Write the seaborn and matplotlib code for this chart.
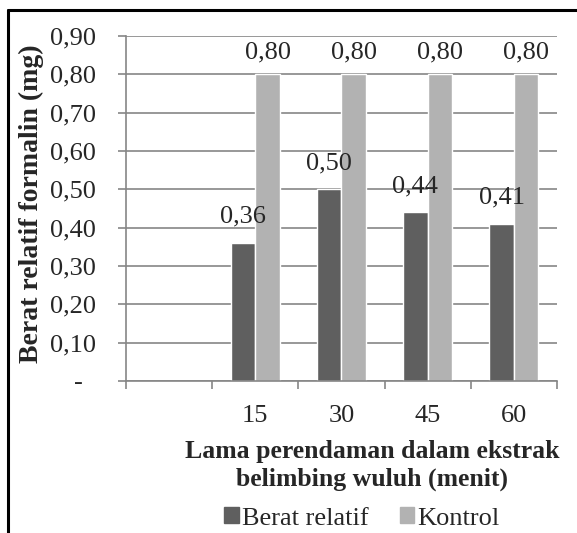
import numpy as np
import pandas as pd
import matplotlib
matplotlib.use("Agg")
import matplotlib.pyplot as plt
from matplotlib.lines import Line2D
from matplotlib.ticker import FixedLocator, FuncFormatter
import seaborn as sns

# data
categories = ["", "15", "30", "45", "60"]
waktu = ["15", "30", "45", "60"]
berat_relatif = [0.36, 0.50, 0.44, 0.41]
kontrol = [0.80, 0.80, 0.80, 0.80]
series_names = ["Berat relatif", "Kontrol"]
colors = ["#5f5f5f", "#b2b2b2"]

df = pd.DataFrame({
    "waktu": waktu * 2,
    "nilai": berat_relatif + kontrol,
    "seri": [series_names[0]] * 4 + [series_names[1]] * 4,
})

sns.set_style("white")
plt.rcParams["font.family"] = ["Liberation Serif", "DejaVu Serif"]

fs = 19
fig = plt.figure(figsize=(5.77, 5.33), dpi=100)
ax = fig.add_axes([0.2184, 0.2852, 0.7469, 0.6473])

sns.barplot(data=df, x="waktu", y="nilai", hue="seri", order=categories,
            hue_order=series_names, palette=colors, width=0.57,
            saturation=1, ax=ax, legend=False)

grid_c = "#868686"
ax.set_ylim(0, 0.9)
ax.set_xlim(-0.5, 4.5)
ax.yaxis.set_major_locator(FixedLocator(np.arange(0, 0.91, 0.1)))


def fmt(v, pos):
    if abs(v) < 1e-9:
        return "-  "
    return f"{v:.2f}".replace(".", ",")


ax.yaxis.set_major_formatter(FuncFormatter(fmt))
ax.yaxis.grid(True, color=grid_c, linewidth=1.2)
ax.set_axisbelow(True)

for s in ["top", "right"]:
    ax.spines[s].set_visible(False)
for s in ["left", "bottom"]:
    ax.spines[s].set_color(grid_c)
    ax.spines[s].set_linewidth(1.2)

ax.set_xticks(np.arange(-0.5, 4.6, 1.0))
ax.set_xticklabels([])
ax.set_xticks(range(len(categories)), minor=True)
ax.set_xticklabels(categories, minor=True)
ax.tick_params(axis="x", which="major", length=5.8, color=grid_c, width=1.2, direction="out")
ax.tick_params(axis="x", which="minor", length=0, pad=17, labelsize=fs)
ax.tick_params(axis="y", length=5.8, color=grid_c, width=1.2, direction="out", pad=16, labelsize=fs)
ax.tick_params(left=True, bottom=True, which="both")

# value labels (dark series sits a little higher above its bars)
for cont, pad in zip(ax.containers, [11, 8]):
    labels = [f"{b.get_height():.2f}".replace(".", ",") for b in cont]
    ax.bar_label(cont, labels=labels, padding=pad, fontsize=fs)

ax.set_xlabel("")
ax.set_ylabel("")
fig.text(0.054, 0.617, "Berat relatif formalin (mg)", rotation=90,
         ha="center", va="center", fontsize=20, fontweight="bold")

fig.text(0.645, 0.127, "Lama perendaman dalam ekstrak\nbelimbing wuluh (menit)",
         ha="center", va="center", fontsize=18.5, fontweight="bold", linespacing=1.28)

handles = [plt.Rectangle((0, 0), 1, 1, color=c) for c in colors]
fig.legend(handles, series_names, loc="center", bbox_to_anchor=(0.627, 0.027),
           ncol=2, frameon=False, fontsize=fs, handlelength=0.55, handleheight=0.55,
           handletextpad=0.1, columnspacing=1.2, borderpad=0, borderaxespad=0)

# outer frame (top and left)
fig.add_artist(Line2D([0.014, 1.0], [0.981, 0.981], color="black", linewidth=2.2,
                      transform=fig.transFigure))
fig.add_artist(Line2D([0.014, 0.014], [0.0, 0.981], color="black", linewidth=2.2,
                      transform=fig.transFigure))

fig.savefig("out.png", dpi=100)
